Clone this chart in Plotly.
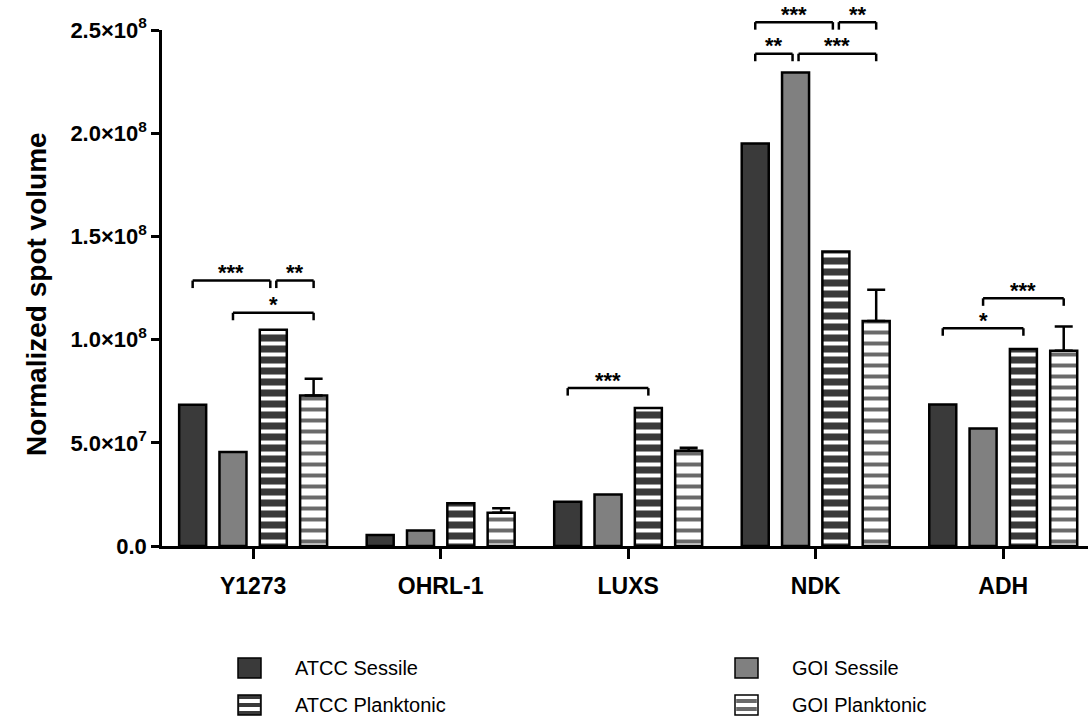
import plotly.graph_objects as go

# ---------------- data ----------------
categories = ["Y1273", "OHRL-1", "LUXS", "NDK", "ADH"]
series_names = ["ATCC Sessile", "GOI Sessile", "ATCC Planktonic", "GOI Planktonic"]
atcc_sessile = [6.84e7, 5.3e6, 2.14e7, 1.95e8, 6.85e7]
goi_sessile = [4.55e7, 7.5e6, 2.50e7, 2.294e8, 5.69e7]
atcc_planktonic = [1.048e8, 2.07e7, 6.68e7, 1.427e8, 9.55e7]
goi_planktonic = [7.29e7, 1.61e7, 4.61e7, 1.09e8, 9.46e7]
goi_planktonic_err = [8.1e6, 2.2e6, 1.5e6, 1.52e7, 1.17e7]

y_tickvals = [0, 5e7, 1e8, 1.5e8, 2e8, 2.5e8]
y_ticktext = ["0.0", "5.0×10<sup>7</sup>", "1.0×10<sup>8</sup>", "1.5×10<sup>8</sup>",
              "2.0×10<sup>8</sup>", "2.5×10<sup>8</sup>"]

# significance brackets: (category index, from series, to series, bracket height, label)
brackets = [
    (0, 0, 2, 1.286e8, "***"),
    (0, 2, 3, 1.286e8, "**"),
    (0, 1, 3, 1.130e8, "*"),
    (2, 0, 2, 7.65e7, "***"),
    (3, 0, 2, 2.538e8, "***"),
    (3, 2, 3, 2.538e8, "**"),
    (3, 0, 1, 2.385e8, "**"),
    (3, 1, 3, 2.385e8, "***"),
    (4, 1, 3, 1.200e8, "***"),
    (4, 0, 2, 1.055e8, "*"),
]

# ---------------- style ----------------
FONT = "Arial, 'Liberation Sans', sans-serif"
DARK = "#3a3a3a"
MID = "#808080"
STRIPE_GREY = "#6a6a6a"
W, H = 1088, 720
L, R, T, B = 162, 0, 30, 174
YMAX = 2.5e8
XRANGE = [-0.486, 4.452]
BARGAP = 0.14
BARGROUPGAP = 0.33
NSER = 4

plot_w = W - L - R
plot_h = H - T - B
px_x = (XRANGE[1] - XRANGE[0]) / plot_w  # axis units per px

line = dict(color="black", width=2.5)
fig = go.Figure()
fig.add_trace(go.Bar(name=series_names[0], x=categories, y=atcc_sessile,
                     marker=dict(color=DARK, line=line)))
fig.add_trace(go.Bar(name=series_names[1], x=categories, y=goi_sessile,
                     marker=dict(color=MID, line=line)))
fig.add_trace(go.Bar(name=series_names[2], x=categories, y=atcc_planktonic,
                     marker=dict(color=DARK, line=line,
                                 pattern=dict(shape="-", fgcolor="#ffffff", bgcolor=DARK,
                                              size=11, solidity=0.36, fgopacity=1))))
fig.add_trace(go.Bar(name=series_names[3], x=categories, y=goi_planktonic,
                     marker=dict(color="white", line=line,
                                 pattern=dict(shape="-", fgcolor=STRIPE_GREY, bgcolor="white",
                                              size=11, solidity=0.36, fgopacity=1)),
                     error_y=dict(type="data", array=goi_planktonic_err,
                                  arrayminus=[0] * len(categories), symmetric=False,
                                  color="black", thickness=2.5, width=9)))
fig.update_traces(showlegend=False, hoverinfo="skip")

slot = (1 - BARGAP) / NSER


def bar_center(cat, s):
    return cat + (-(NSER - 1) / 2 + s) * slot


shapes = []
annotations = []
drop = 7.5 / plot_h
gap = 3 * px_x
for (c, a, b, yv, lab) in brackets:
    x0 = bar_center(c, a)
    x1 = bar_center(c, b)
    # shrink at endpoints shared with another bracket on the same level
    for (c2, a2, b2, yv2, _) in brackets:
        if c2 == c and abs(yv2 - yv) < 1 and (a2, b2) != (a, b):
            if b2 == a:
                x0 += gap
            if a2 == b:
                x1 -= gap
    yp = yv / YMAX
    for (xa, ya, xb, yb) in [(x0, yp - drop, x0, yp), (x0, yp, x1, yp), (x1, yp, x1, yp - drop)]:
        shapes.append(dict(type="line", xref="x", yref="paper", x0=xa, y0=ya, x1=xb, y1=yb,
                           line=dict(color="black", width=2.5), layer="above"))
    annotations.append(dict(xref="x", yref="paper", x=(x0 + x1) / 2, y=yp, text=lab,
                            showarrow=False, yanchor="middle", yshift=8,
                            font=dict(family=FONT, size=22, color="black", weight="bold")))

# y axis title
annotations.append(dict(xref="paper", yref="paper", x=(36 - L) / plot_w, y=(H - B - 294) / plot_h,
                        text="Normalized spot volume", textangle=-90, showarrow=False,
                        xanchor="center", yanchor="middle",
                        font=dict(family=FONT, size=28, color="black", weight="bold")))

# manual legend (two columns)
legend_cols = [238, 735]
legend_rows = [668, 705]
sw_w, sw_h = 23, 20
text_dx = 55


def px2paper(px, py):
    return (px - L) / plot_w, (H - B - py) / plot_h


for k, name in enumerate(series_names):
    col = k % 2
    row = k // 2
    cx = legend_cols[col]
    cy = legend_rows[row]
    X0, Y0 = px2paper(cx, cy + sw_h / 2)
    X1, Y1 = px2paper(cx + sw_w, cy - sw_h / 2)
    base = [DARK, MID, DARK, "white"][k]
    shapes.append(dict(type="rect", xref="paper", yref="paper", x0=X0, y0=Y0, x1=X1, y1=Y1,
                       fillcolor=base, line=dict(color="black", width=1.5)))
    if k >= 2:
        sc = "white" if k == 2 else STRIPE_GREY
        for frac in [0.3, 0.7]:
            sy0 = Y0 + (Y1 - Y0) * (frac - 0.1)
            sy1 = Y0 + (Y1 - Y0) * (frac + 0.1)
            shapes.append(dict(type="rect", xref="paper", yref="paper",
                               x0=X0 + 1.2 / plot_w, x1=X1 - 1.2 / plot_w, y0=sy0, y1=sy1,
                               fillcolor=sc, line=dict(width=0)))
    tx, ty = px2paper(cx + text_dx, cy)
    annotations.append(dict(xref="paper", yref="paper", x=tx, y=ty, text=name, showarrow=False,
                            xanchor="left", yanchor="middle",
                            font=dict(family=FONT, size=20, color="black")))

fig.update_layout(
    width=W, height=H,
    margin=dict(l=L, r=R, t=T, b=B, autoexpand=False),
    paper_bgcolor="white", plot_bgcolor="white",
    barmode="group", bargap=BARGAP, bargroupgap=BARGROUPGAP,
    shapes=shapes, annotations=annotations,
    showlegend=False,
    xaxis=dict(type="category", range=XRANGE, showline=True, linecolor="black", linewidth=2.5,
               ticks="outside", ticklen=10, tickwidth=2.5, tickcolor="black",
               ticklabelstandoff=8,
               showgrid=False, zeroline=False, automargin=False,
               tickfont=dict(family=FONT, size=23, color="black", weight="bold")),
    yaxis=dict(range=[0, YMAX], tickvals=y_tickvals, ticktext=y_ticktext,
               showline=True, linecolor="black", linewidth=2.5,
               ticks="outside", ticklen=8, tickwidth=2.5, tickcolor="black",
               showgrid=False, zeroline=False, automargin=False,
               tickfont=dict(family=FONT, size=22, color="black", weight="bold")),
)

fig.write_html("out.html", config={"displayModeBar": False},
               post_script="document.body.style.margin='0';document.body.style.overflow='hidden';")
